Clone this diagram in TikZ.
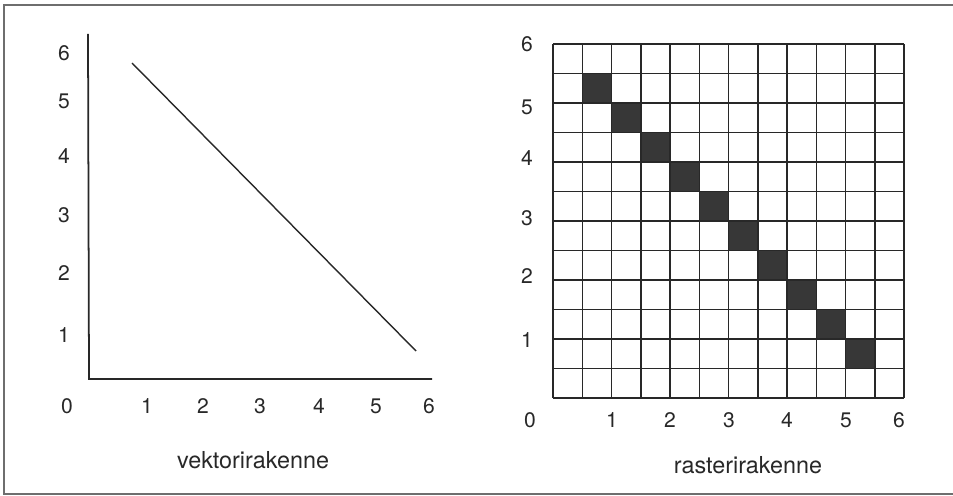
\documentclass[tikz,border=0pt]{standalone}
\usepackage{fontspec}
\setmainfont{TeX Gyre Heros}
\usetikzlibrary{positioning, calc}
\definecolor{ink}{RGB}{40, 40, 40}
\definecolor{cellfill}{RGB}{55, 55, 55}
\definecolor{frame}{RGB}{110, 110, 110}
\tikzset{
    tick/.style={font=\fontsize{12}{14}\selectfont, text=ink, inner sep=1pt},
    caption/.style={font=\fontsize{13.3}{16}\selectfont, text=ink, inner sep=1pt},
    axis/.style={line width=1pt, ink},
    vecline/.style={line width=0.8pt, ink},
    gridline/.style={line width=0.85pt, ink},
    pixel/.style={fill=cellfill}
}
\begin{document}
\begin{tikzpicture}[x=0.02cm, y=-0.02cm]
        \useasboundingbox (0,0) rectangle (953,496);
        % outer frame
        \draw[frame, line width=0.9pt] (955,5) -- (4,5) -- (4,494) -- (955,494);

        % vector panel
        \coordinate (origin) at (89,379);
        \coordinate (ytop) at (88,34);
        \coordinate (xend) at (432,379);
        \coordinate (vstart) at (132,63);
        \coordinate (vend) at (416,351);
        \draw[axis] (ytop) -- (origin) -- (xend);
        \draw[vecline] (vstart) -- (vend);
        \foreach \n/\y in {6/53, 5/101, 4/156, 3/215, 2/273, 1/335}
            \node[tick] (vy\n) at (64,\y) {\n};
        \foreach \n/\x in {0/67, 1/147, 2/203, 3/260, 4/319, 5/376, 6/429}
            \node[tick] (vx\n) at (\x,406) {\n};
        \node[caption] (vcap) at (253,460) {vektorirakenne};

        % raster panel
        \foreach \i in {1,...,10}
            \fill[pixel] ({553+\i*29.25},{44+\i*29.5}) rectangle ++(29.25,29.5);
        \foreach \i in {0,...,12} {
            \draw[gridline] ({553+\i*29.25},44) -- ({553+\i*29.25},398);
            \draw[gridline] (553,{44+\i*29.5}) -- (904,{44+\i*29.5});
        }
        \foreach \n/\y in {6/44, 5/107, 4/158, 3/218, 2/276, 1/340}
            \node[tick] (ry\n) at (527,\y) {\n};
        \foreach \n/\x in {0/530, 1/612, 2/670, 3/729, 4/787, 5/846, 6/899}
            \node[tick] (rx\n) at (\x,420) {\n};
        \node[caption] (rcap) at (748,465) {rasterirakenne};
    \end{tikzpicture}
\end{document}
